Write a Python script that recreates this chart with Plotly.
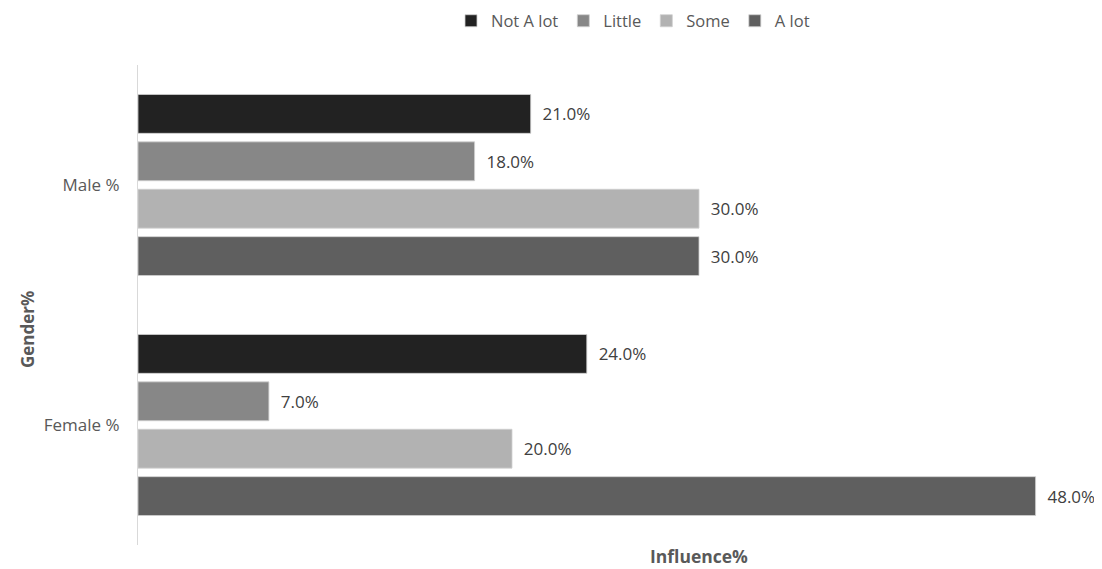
import plotly.graph_objects as go

categories = ["Male %", "Female %"]
series_names = ["Not A lot", "Little", "Some", "A lot"]
values = {
    "Not A lot": [21.0, 24.0],
    "Little": [18.0, 7.0],
    "Some": [30.0, 20.0],
    "A lot": [30.0, 48.0],
}
colors = {
    "Not A lot": "#222222",
    "Little": "#878787",
    "Some": "#b2b2b2",
    "A lot": "#5f5f5f",
}

FONT = "Open Sans, DejaVu Sans, sans-serif"

# the page body adds an 8px offset; size the figure so it lands where the reference is
OFF = 8
W, H = 1102 - OFF, 569 - OFF
L, T = 138 - OFF, 65 - OFF
R = W - (1073 - OFF)
B = H - (545 - OFF)

fig = go.Figure()
for name in series_names:
    fig.add_trace(go.Bar(
        name=name,
        y=categories,
        x=values[name],
        orientation="h",
        marker=dict(color=colors[name], line=dict(color="#d0d0d0", width=0.8)),
        texttemplate="  %{x:.1f}%",
        textposition="outside",
        textfont=dict(family=FONT, size=17, color="#404040"),
        cliponaxis=False,
    ))

pw = W - L - R
ph = H - T - B

def paper_x(px_):
    return (px_ - OFF - L) / pw

def paper_y(py_):
    return (H - B - (py_ - OFF)) / ph

fig.update_layout(
    width=W, height=H,
    barmode="group",
    bargap=0.21,
    bargroupgap=0.18,
    plot_bgcolor="white",
    paper_bgcolor="white",
    margin=dict(l=L, r=R, t=T, b=B, autoexpand=False),
    font=dict(family=FONT, color="#595959"),
    legend=dict(
        orientation="h", x=paper_x(633), xanchor="center",
        y=paper_y(21), yanchor="middle",
        yref="paper", font=dict(family=FONT, size=16.5, color="#595959"),
        traceorder="normal", itemwidth=30,
    ),
    xaxis=dict(range=[0, 50], showticklabels=False, showgrid=False,
               zeroline=False, showline=False, ticks=""),
    yaxis=dict(autorange="reversed", showgrid=False, zeroline=False,
               showline=True, linecolor="#d9d9d9", linewidth=1,
               ticks="", tickfont=dict(family=FONT, size=17, color="#595959"),
               ticklabelstandoff=14),
)

fig.add_annotation(text="<b>Gender%</b>", textangle=-90, x=paper_x(28), y=paper_y(330),
                   xanchor="center", yanchor="middle",
                   xref="paper", yref="paper", showarrow=False,
                   font=dict(family=FONT, size=17, color="#595959"))
fig.add_annotation(text="<b>Influence%</b>", x=paper_x(699), y=paper_y(556),
                   xanchor="center", yanchor="middle",
                   xref="paper", yref="paper", showarrow=False,
                   font=dict(family=FONT, size=17.5, color="#595959"))

fig.write_html("out.html")
